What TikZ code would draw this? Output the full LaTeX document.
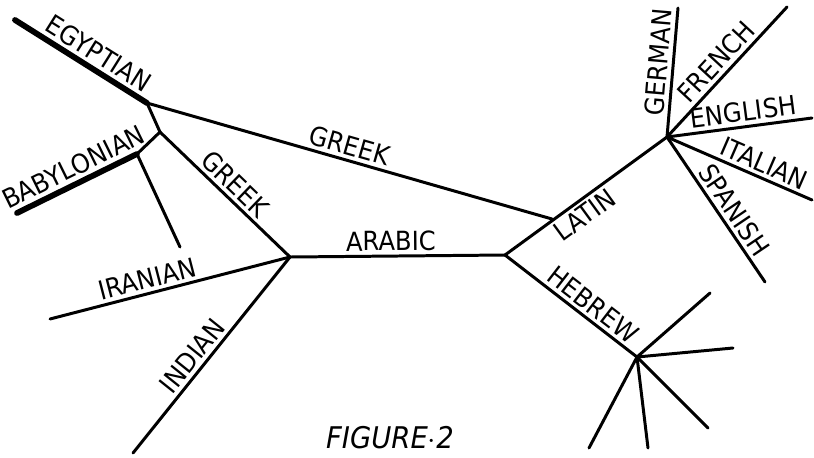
\documentclass[tikz,border=0pt]{standalone}
\usepackage{fontspec}
\setmainfont{DejaVu Sans}[FakeStretch=0.92]
\begin{document}
\begin{tikzpicture}[x=0.02cm, y=-0.02cm, line cap=round, line join=round,
  br/.style={line width=1.7pt},
  thickbr/.style={line width=3.3pt},
  lbl/.style={sloped, above, inner sep=2pt, font=\fontsize{15}{17}\selectfont}]
\useasboundingbox (0,0) rectangle (814,457);
\coordinate (egy) at (15,20);
\coordinate (j1) at (147,103);
\coordinate (j2) at (160,132);
\coordinate (bab) at (137,154);
\coordinate (babend) at (17,213);
\coordinate (babdown) at (180,247);
\coordinate (ara) at (290,257);
\coordinate (ira) at (50,319);
\coordinate (ind) at (133,453);
\coordinate (lat) at (505,255);
\coordinate (gk) at (552,219);
\coordinate (rom) at (667,137);
\coordinate (ger) at (678,8);
\coordinate (fre) at (787,7);
\coordinate (eng) at (812,118);
\coordinate (ita) at (812,200);
\coordinate (spa) at (765,282);
\coordinate (heb) at (637,357);
\coordinate (h1) at (710,293);
\coordinate (h2) at (733,348);
\coordinate (h3) at (708,428);
\coordinate (h4) at (648,448);
\coordinate (h5) at (589,448);
\draw[thickbr](egy) -- node[lbl, pos=0.57] (tegy) {EGYPTIAN} (j1);
\draw[br](j1) -- node[lbl, pos=0.49] (tgk1) {GREEK} (gk);
\draw[br](j1) -- (j2);
\draw[br](j2) -- (bab);
\draw[thickbr](babend) -- node[lbl, pos=0.53] (tbab) {BABYLONIAN} (bab);
\draw[br](bab) -- (babdown);
\draw[br](j2) -- node[lbl, pos=0.5] (tgk2) {GREEK} (ara);
\draw[br](ira) -- node[lbl, pos=0.42] (tira) {IRANIAN} (ara);
\draw[br](ind) -- node[lbl, pos=0.45] (tind) {INDIAN} (ara);
\draw[br](ara) -- node[lbl, pos=0.47] (tara) {ARABIC} (lat);
\draw[br](lat) -- node[lbl, below, pos=0.44] (tlat) {LATIN} (rom);
\draw[br](lat) -- node[lbl, pos=0.6] (theb) {HEBREW} (heb);
\draw[br](rom) -- node[lbl, pos=0.57] (tger) {GERMAN} (ger);
\draw[br](rom) -- node[lbl, pos=0.5] (tfre) {FRENCH} (fre);
\draw[br](rom) -- node[lbl, pos=0.54] (teng) {ENGLISH} (eng);
\draw[br](rom) -- node[lbl, pos=0.63] (tita) {ITALIAN} (ita);
\draw[br](rom) -- node[lbl, pos=0.56] (tspa) {SPANISH} (spa);
\draw[br](heb) -- (h1);
\draw[br](heb) -- (h2);
\draw[br](heb) -- (h3);
\draw[br](heb) -- (h4);
\draw[br](heb) -- (h5);
\node[font=\fontsize{17}{19}\selectfont\itshape] (fig) at (390,438) {FIGURE$\cdot$2};
\end{tikzpicture}
\end{document}
